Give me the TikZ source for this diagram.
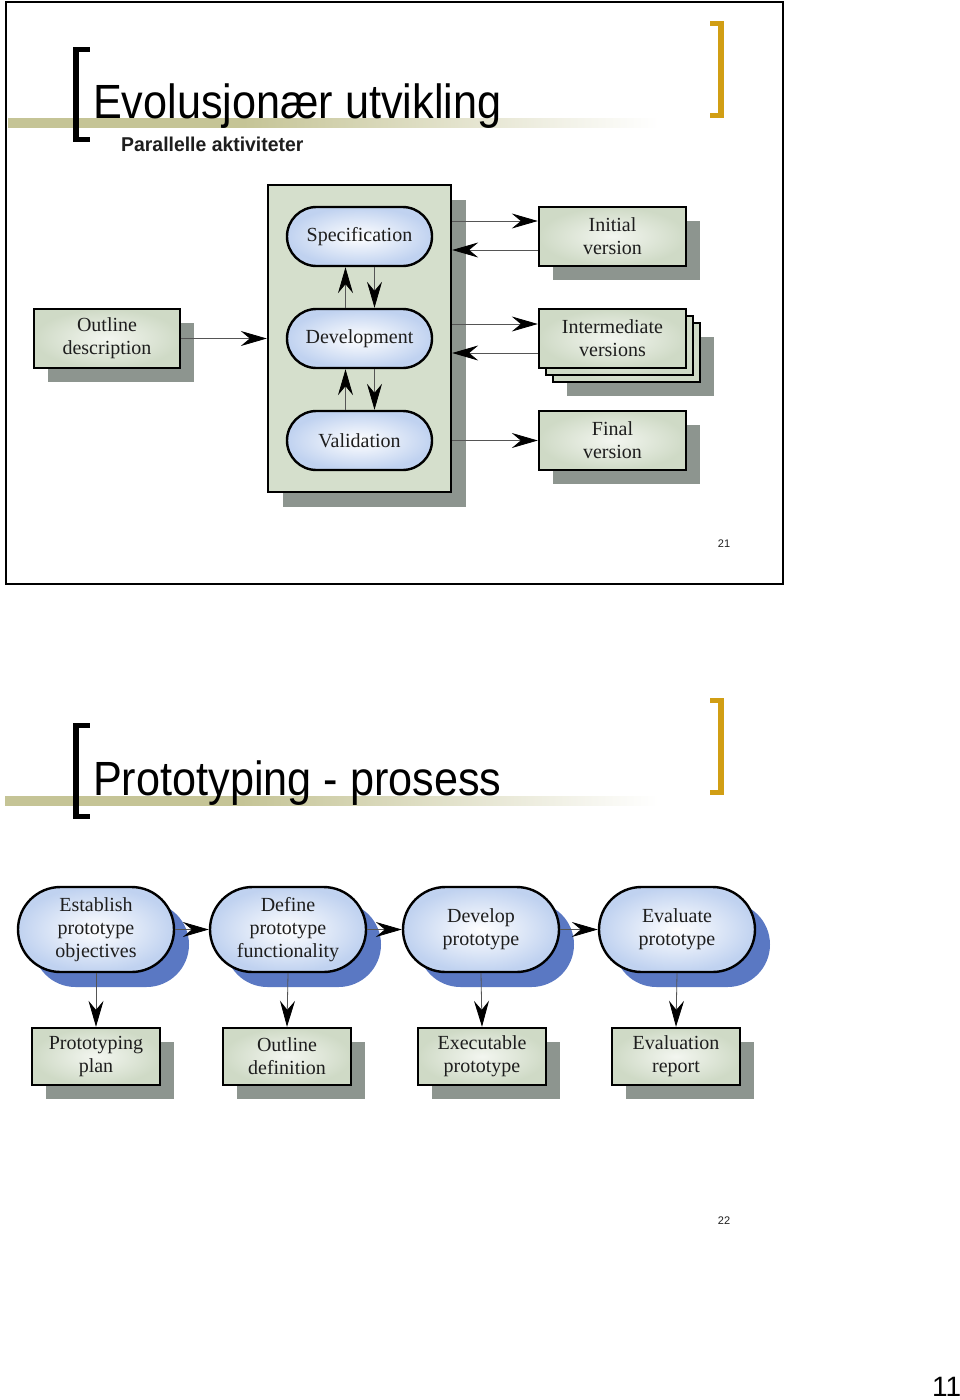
\documentclass[tikz,border=0pt]{standalone}
\usepackage{fontspec}
\setmainfont{Liberation Serif}
\newfontfamily\arialf{Liberation Sans}
\usetikzlibrary{arrows.meta,shadows,shapes.misc}
\definecolor{barc}{HTML}{C5C496}
\definecolor{goldc}{HTML}{D19E14}
\definecolor{shgray}{HTML}{8D958F}
\definecolor{shblue}{HTML}{5A78C3}
\definecolor{contfill}{HTML}{D5DFCC}
\definecolor{boxout}{HTML}{CFDAC6}
\definecolor{boxin}{HTML}{F3F6F0}
\definecolor{stout}{HTML}{C0D2F0}
\definecolor{stin}{HTML}{FFFFFF}
\definecolor{txt}{HTML}{1E1E1E}
\definecolor{lnc}{HTML}{555555}
\pgfdeclarehorizontalshading{barsh}{100bp}{color(0bp)=(barc); color(25bp)=(barc); color(42bp)=(barc); color(72bp)=(white); color(100bp)=(white)}
\begin{document}
\begin{tikzpicture}[x=1pt,y=-1pt,
  lbl/.style={align=center,text=txt,font=\fontsize{20}{23}\selectfont,inner sep=0pt},
  stadtop/.style={lbl,rounded rectangle,draw=black,line width=2.4pt,
    inner color=stin,outer color=stout,minimum width=145pt,minimum height=59pt},
  stadbot/.style={lbl,rounded rectangle,draw=black,line width=2.4pt,
    inner color=stin,outer color=stout,minimum width=156pt,minimum height=85pt,
    drop shadow={shadow xshift=15pt,shadow yshift=-15pt,fill=shblue,opacity=1}},
  boxplain/.style={lbl,rectangle,draw=black,line width=2.4pt,
    inner color=boxin,outer color=boxout,minimum width=147pt,minimum height=59pt},
  boxsh/.style={boxplain,
    drop shadow={shadow xshift=14pt,shadow yshift=-14pt,fill=shgray,opacity=1}},
  boxsm/.style={boxsh,minimum width=128pt,minimum height=57pt},
  contbox/.style={rectangle,draw=black,line width=2.4pt,fill=contfill,
    minimum width=183pt,minimum height=307pt,
    drop shadow={shadow xshift=15pt,shadow yshift=-15pt,fill=shgray,opacity=1}},
  arr/.style={draw=lnc,line width=0.8pt,-{Stealth[length=26pt,width=15pt,inset=9pt,color=black]}},
  ttl/.style={anchor=base west,inner sep=0pt,text=black,xscale=0.9,font=\arialf\fontsize{48}{50}\selectfont},
  pgn/.style={inner sep=0pt,text=txt,font=\arialf\fontsize{11}{13}\selectfont}
]
\useasboundingbox (0,0) rectangle (960,1400);
\fill[white] (0,0) rectangle (960,1400);

% ---------- slide 21 ----------
\draw[line width=2pt] (6,2) rectangle (783,584);
\shade[shading=barsh] (8,118) rectangle (700,127);
\node[ttl] (t1) at (93,118) {Evolusjonær utvikling};
\node[anchor=base west,inner sep=0pt,text=txt,xscale=0.97,font=\arialf\bfseries\fontsize{20}{22}\selectfont] (st1) at (121,151) {Parallelle aktiviteter};
\fill[black] (73,47) rectangle (79,142);
\fill[black] (73,47) rectangle (90,52);
\fill[black] (73,137) rectangle (90,142);
\fill[goldc] (718,21) rectangle (724,118);
\fill[goldc] (710,21) rectangle (724,26);
\fill[goldc] (710,113) rectangle (724,118);

\node[contbox] (cont) at (359.5,338.5) {};
\node[stadtop] (spec) at (359.5,236.5) {Specification};
\node[stadtop] (dev) at (359.5,338.5) {Development};
\node[stadtop] (val) at (359.5,440.5) {Validation};

\node[boxsh,minimum width=146pt] (outl) at (107,338.5) {Outline\\description};
\node[boxsh] (init) at (612.5,236.5) {Initial\\version};
\node[boxsh] (int3) at (626.5,352.5) {};
\node[boxplain] (int2) at (619.5,345.5) {};
\node[boxplain] (int1) at (612.5,338.5) {Intermediate\\versions};
\node[boxsh] (fin) at (612.5,440.5) {Final\\version};

\draw[arr] ([xshift=-14pt]dev.north) -- ([xshift=-14pt]spec.south);
\draw[arr] ([xshift=15pt]spec.south) -- ([xshift=15pt]dev.north);
\draw[arr] ([xshift=-14pt]val.north) -- ([xshift=-14pt]dev.south);
\draw[arr] ([xshift=15pt]dev.south) -- ([xshift=15pt]val.north);

\draw[arr] (outl.east) -- (cont.west);
\coordinate (a1) at ([yshift=15.5pt]init.west);
\coordinate (a2) at ([yshift=-13.5pt]init.west);
\coordinate (b1) at ([yshift=14.5pt]int1.west);
\coordinate (b2) at ([yshift=-14.5pt]int1.west);
\draw[arr] (cont.east |- a1) -- (a1);
\draw[arr] (a2) -- (cont.east |- a2);
\draw[arr] (cont.east |- b1) -- (b1);
\draw[arr] (b2) -- (cont.east |- b2);
\draw[arr] (cont.east |- fin.west) -- (fin.west);

\node[pgn] (p21) at (724,544) {21};

% ---------- slide 22 ----------
\shade[shading=barsh] (5,796) rectangle (700,805);
\node[ttl] (t2) at (93,795) {Prototyping - prosess};
\fill[black] (73,723) rectangle (79,819);
\fill[black] (73,723) rectangle (90,728);
\fill[black] (73,814) rectangle (90,819);
\fill[goldc] (718,698) rectangle (724,795);
\fill[goldc] (710,698) rectangle (724,703);
\fill[goldc] (710,790) rectangle (724,795);

\node[stadbot] (est) at (96,929.5) {Establish\\prototype\\objectives};
\node[stadbot] (def) at (288,929.5) {Define\\prototype\\functionality};
\node[stadbot] (dvp) at (481,929.5) {Develop\\prototype};
\node[stadbot] (evp) at (677,929.5) {Evaluate\\prototype};

\node[boxsm] (plan) at (96,1056.5) {Prototyping\\plan};
\node[boxsm] (odef) at (287,1056.5) {Outline\\definition};
\node[boxsm] (exe) at (482,1056.5) {Executable\\prototype};
\node[boxsm] (rep) at (676,1056.5) {Evaluation\\report};

\draw[arr] (est.east) -- (def.west);
\draw[arr] (def.east) -- (dvp.west);
\draw[arr] (dvp.east) -- (evp.west);
\draw[arr] (est.south) -- (plan.north);
\draw[arr] (def.south) -- (odef.north);
\draw[arr] (dvp.south) -- (exe.north);
\draw[arr] (evp.south) -- (rep.north);

\node[pgn] (p22) at (724,1221) {22};
\node[anchor=base west,inner sep=0pt,text=black,font=\arialf\fontsize{28}{30}\selectfont] (p11) at (932,1396) {11};
\end{tikzpicture}
\end{document}
